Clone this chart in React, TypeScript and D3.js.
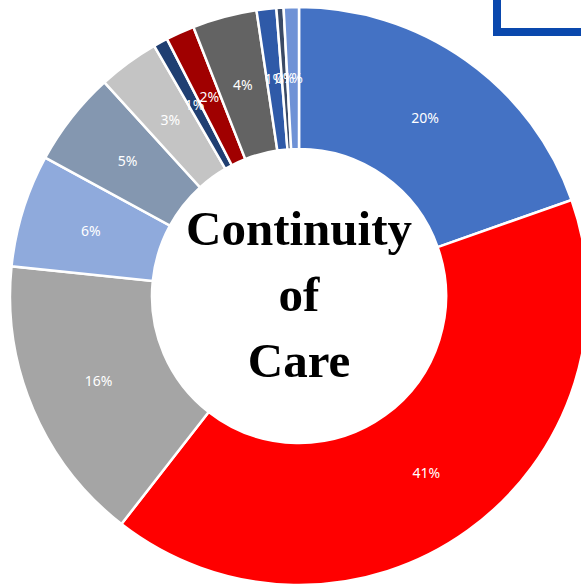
import React, { useRef, useEffect } from 'react';
import * as d3 from 'd3';

// slices clockwise from 12 o'clock
const sliceValues = [19.6, 40.9, 16.1, 6.3, 5.3, 3.4, 0.8, 1.6, 3.6, 1.1, 0.4, 0.85];
const sliceLabels = ['20%', '41%', '16%', '6%', '5%', '3%', '1%', '2%', '4%', '1%', '0%', '1%'];
const sliceColors = [
  '#4472C4', '#FF0000', '#A5A5A5', '#8FAADC', '#8497B0', '#C4C4C4',
  '#203F72', '#A00000', '#636363', '#2F5AA8', '#3A4A66', '#6F92D6',
];
const centerLines = ['Continuity', 'of', 'Care'];

export default function App() {
  const svgRef = useRef<SVGSVGElement>(null);

  useEffect(() => {
    const width = 581;
    const height = 584;
    const cx = 299;
    const cy = 296;
    const outerR = 289;
    const innerR = 147;

    const svg = d3.select(svgRef.current);
    svg.selectAll('*').remove();

    svg.append('rect').attr('width', width).attr('height', height).attr('fill', '#fff');

    const g = svg.append('g').attr('transform', `translate(${cx},${cy})`);

    const pie = d3.pie<number>().sort(null).value(d => d);
    const arcs = pie(sliceValues);
    const arc = d3.arc<d3.PieArcDatum<number>>().innerRadius(innerR).outerRadius(outerR);
    const labelArc = d3.arc<d3.PieArcDatum<number>>()
      .innerRadius((innerR + outerR) / 2)
      .outerRadius((innerR + outerR) / 2);

    g.selectAll('path.slice')
      .data(arcs)
      .enter()
      .append('path')
      .attr('class', 'slice')
      .attr('d', arc)
      .attr('fill', (d, i) => sliceColors[i])
      .attr('stroke', '#fff')
      .attr('stroke-width', 2.5);

    g.selectAll('text.lbl')
      .data(arcs)
      .enter()
      .append('text')
      .attr('class', 'lbl')
      .attr('transform', d => `translate(${labelArc.centroid(d)})`)
      .attr('text-anchor', 'middle')
      .attr('dy', '0.35em')
      .attr('fill', '#fff')
      .style('font-family', '"Noto Sans", "Liberation Sans", sans-serif')
      .style('font-size', '14px')
      .text((d, i) => sliceLabels[i]);

    // title in the hole
    g.selectAll('text.center')
      .data(centerLines)
      .enter()
      .append('text')
      .attr('class', 'center')
      .attr('x', 0)
      .attr('y', (d, i) => -51 + i * 66)
      .attr('text-anchor', 'middle')
      .attr('fill', '#000')
      .style('font-family', '"Liberation Serif", "DejaVu Serif", serif')
      .style('font-weight', 'bold')
      .style('font-size', '49px')
      .text(d => d);

    // framed box at the top right corner
    svg.append('rect')
      .attr('x', 497)
      .attr('y', -10)
      .attr('width', 100)
      .attr('height', 42)
      .attr('fill', '#fff')
      .attr('stroke', '#0A48AD')
      .attr('stroke-width', 8);
  }, []);

  return (
    <svg
      ref={svgRef}
      width={581}
      height={584}
      style={{ position: 'fixed', left: 0, top: 0 }}
    />
  );
}
